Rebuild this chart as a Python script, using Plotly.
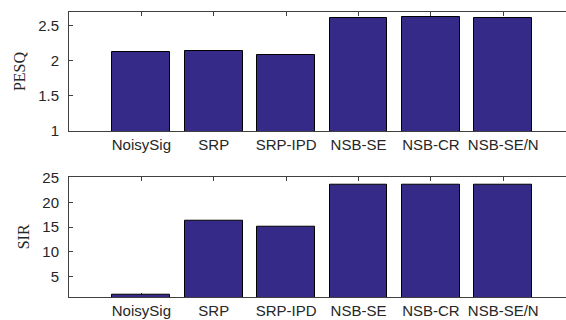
import plotly.graph_objects as go

# Methods compared and their scores
methods = ["NoisySig", "SRP", "SRP-IPD", "NSB-SE", "NSB-CR", "NSB-SE/N"]
pesq = [2.124, 2.13, 2.075, 2.61, 2.615, 2.61]
sir = [1.3, 16.2, 15.05, 23.6, 23.6, 23.6]

positions = list(range(1, len(methods) + 1))

BAR_COLOR = "#352A87"
AXIS_COLOR = "#404040"
TEXT_COLOR = "#262626"
SANS = "Liberation Sans, Arial, sans-serif"
SERIF = "Liberation Serif, Times New Roman, serif"

fig = go.Figure()

fig.add_trace(go.Bar(
    x=positions, y=pesq, width=0.8,
    marker=dict(color=BAR_COLOR, line=dict(color="black", width=1)),
    xaxis="x", yaxis="y", showlegend=False,
))
fig.add_trace(go.Bar(
    x=positions, y=sir, width=0.8,
    marker=dict(color=BAR_COLOR, line=dict(color="black", width=1)),
    xaxis="x2", yaxis="y2", showlegend=False,
))

xaxis_common = dict(
    range=[0, 6.867],
    tickmode="array", tickvals=positions, ticktext=methods,
    showline=True, linecolor=AXIS_COLOR, linewidth=1, mirror="ticks",
    ticks="inside", ticklen=4, tickcolor=AXIS_COLOR, tickwidth=1,
    showgrid=False, zeroline=False,
    tickfont=dict(family=SANS, size=15, color=TEXT_COLOR),
    layer="below traces", fixedrange=True,
)
yaxis_common = dict(
    showline=True, linecolor=AXIS_COLOR, linewidth=1, mirror=False,
    ticks="inside", ticklen=4, tickcolor=AXIS_COLOR, tickwidth=1,
    showgrid=False, zeroline=False,
    tickfont=dict(family=SANS, size=15, color=TEXT_COLOR),
    ticklabelstandoff=6,
    layer="below traces", fixedrange=True,
)

fig.update_layout(
    width=566, height=320,
    margin=dict(l=69, r=0, t=12, b=23),
    paper_bgcolor="white", plot_bgcolor="white",
    bargap=0,
    xaxis=dict(xaxis_common, domain=[0, 1], anchor="y"),
    yaxis=dict(yaxis_common, domain=[0.5825, 1], anchor="x",
               range=[1, 2.69], tickvals=[1, 1.5, 2, 2.5],
               ticktext=["1", "1.5", "2", "2.5"],
               title=dict(text="PESQ", font=dict(family=SERIF, size=16, color=TEXT_COLOR),
                          standoff=8)),
    xaxis2=dict(xaxis_common, domain=[0, 1], anchor="y2"),
    yaxis2=dict(yaxis_common, domain=[0, 0.422], anchor="x2",
                range=[0.9, 25.16], tickvals=[5, 10, 15, 20, 25],
                title=dict(text="SIR", font=dict(family=SERIF, size=16, color=TEXT_COLOR),
                           standoff=8)),
)

fig.write_html("out.html")
